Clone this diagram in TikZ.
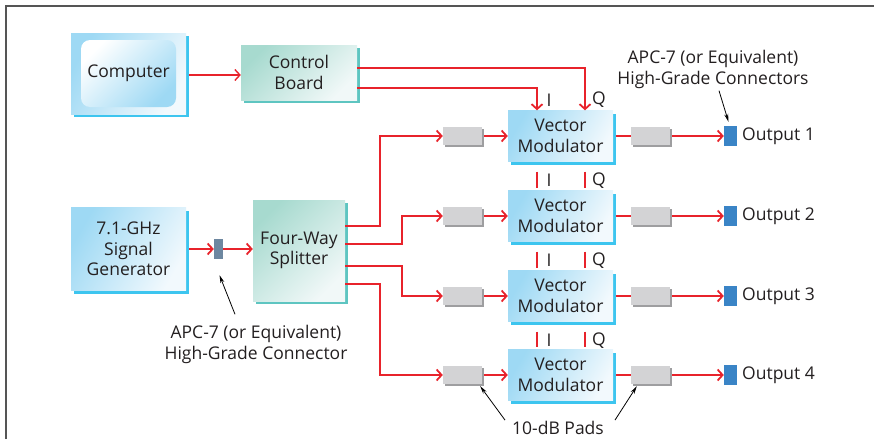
\documentclass[tikz,border=0pt]{standalone}
\usepackage{fontspec}
\setmainfont{Open Sans}
\usetikzlibrary{arrows.meta,shadows}
\definecolor{sigred}{HTML}{E8232B}
\definecolor{txtgray}{HTML}{231F20}
\definecolor{blueA}{HTML}{9ED9F4}
\definecolor{blueB}{HTML}{F2F9FD}
\definecolor{blueshadow}{HTML}{3DC5EF}
\definecolor{tealA}{HTML}{A7DACF}
\definecolor{tealB}{HTML}{F1F8F8}
\definecolor{tealshadow}{HTML}{5EC5C1}
\definecolor{padgray}{HTML}{D3D3D5}
\definecolor{padshadow}{HTML}{9E9EA0}
\definecolor{outblue}{HTML}{3A84C6}
\definecolor{conngray}{HTML}{6D87A0}
\definecolor{framegray}{HTML}{555555}
\begin{document}
\begin{tikzpicture}[x=1pt,y=-1pt,
        font=\fontsize{17.5}{20.5}\selectfont,text=txtgray,
        bluebox/.style={inner sep=0pt,align=center,top color=blueA,bottom color=blueB,shading angle=60,
            drop shadow={fill=blueshadow,opacity=1,shadow xshift=3pt,shadow yshift=-3pt}},
        tealbox/.style={inner sep=0pt,align=center,top color=tealA,bottom color=tealB,shading angle=45,
            drop shadow={fill=tealshadow,opacity=1,shadow xshift=3pt,shadow yshift=-3pt}},
        padbox/.style={inner sep=0pt,minimum width=39pt,minimum height=18pt,fill=padgray,
            drop shadow={fill=padshadow,opacity=1,shadow xshift=2pt,shadow yshift=-2pt}},
        outconn/.style={inner sep=0pt,minimum width=13pt,minimum height=20pt,fill=outblue},
        wire/.style={draw=sigred,line width=1.8pt},
        sig/.style={wire,-{Straight Barb[length=5pt,width=11pt]}},
        note/.style={draw=black,line width=0.8pt,-{Stealth[length=8pt,width=4pt]}}]
    \useasboundingbox (0,0) rectangle (874,439);
    \draw[framegray,line width=1.2pt] (6,439) -- (6,6) -- (874,6);

    % control path
    \node[bluebox,minimum width=115pt,minimum height=81pt] (comp) at (128.5,73.5) {};
    \node[inner sep=0pt,minimum width=95pt,minimum height=67pt,rounded corners=9pt,
        top color=white,bottom color=blueA,shading angle=45] (compin) at (128.5,73.5) {Computer};
    \node[tealbox,minimum width=116pt,minimum height=55pt] (ctrl) at (299,72.5) {Control\\Board};
    \draw[sig,line width=1.4pt] ([xshift=3pt,yshift=-1.5pt]comp.east) -- ([yshift=-2.5pt]ctrl.west);

    % source side
    \node[bluebox,minimum width=115pt,minimum height=83pt] (gen) at (128.5,249) {7.1-GHz\\Signal\\Generator};
    \node[inner sep=0pt,minimum width=9pt,minimum height=20pt,fill=conngray] (conn) at (218.5,249) {};
    \node[tealbox,minimum width=92pt,minimum height=101pt] (split) at (299,250.5) {Four-Way\\Splitter};
    \draw[sig] ([xshift=3pt]gen.east) -- (conn.west);
    \draw[sig] (conn.east) -- (conn.east -| split.west);

    % modulator rows
    \foreach \i/\y in {1/136,2/216,3/296,4/375}{
        \node[padbox] (padin\i) at (462.5,\y) {};
        \node[bluebox,minimum width=105pt,minimum height=51pt] (vm\i) at (560.5,\y) {Vector\\Modulator};
        \node[padbox] (padout\i) at (650.5,\y) {};
        \node[outconn] (out\i) at (730.5,\y) {};
        \node[anchor=west,inner sep=0pt] (outlbl\i) at (742,\y) {Output \i};
        \draw[sig] ([xshift=2pt]padin\i.east) -- (vm\i.west);
        \draw[wire] ([xshift=3pt]vm\i.east) -- (padout\i.west);
        \draw[sig] ([xshift=2pt]padout\i.east) -- (out\i.west);
    }

    % splitter outputs
    \draw[sig] ([yshift=24.5pt]split.east) -- ++(35,0) |- (padin1.west);
    \draw[sig] ([yshift=6.5pt]split.east) -- ++(57,0) |- (padin2.west);
    \draw[sig] ([yshift=-15.5pt]split.east) -- ++(57,0) |- (padin3.west);
    \draw[sig] ([yshift=-33.5pt]split.east) -- ++(35,0) |- (padin4.west);

    % I and Q lines
    \draw[sig] ([yshift=4.5pt]ctrl.east) -| ([xshift=24.5pt]vm1.north);
    \draw[sig] ([yshift=-15.5pt]ctrl.east) -| ([xshift=-23.5pt]vm1.north);
    \node (itop) at (549,100) {I};
    \node (qtop) at (599,100) {Q};
    \foreach \i/\j in {1/2,2/3,3/4}{
        \draw[wire] ([xshift=-23.5pt,yshift=-10pt]vm\i.south) -- ([xshift=-23.5pt,yshift=2pt]vm\j.north);
        \draw[wire] ([xshift=24.5pt,yshift=-10pt]vm\i.south) -- ([xshift=24.5pt,yshift=2pt]vm\j.north);
        \node (ilbl\i) at ([xshift=-11.5pt,yshift=-19pt]vm\i.south) {I};
        \node (qlbl\i) at ([xshift=38.5pt,yshift=-19pt]vm\i.south) {Q};
    }

    % annotations
    \node[align=center,inner sep=0pt] (apctop) at (713,69.5) {APC-7 (or Equivalent)\\High-Grade Connectors};
    \draw[note] ([xshift=6pt,yshift=-2pt]apctop.south) -- ([xshift=-2pt,yshift=4pt]out1.north);
    \node[align=center,inner sep=0pt] (apcbot) at (256,344.5) {APC-7 (or Equivalent)\\High-Grade Connector};
    \draw[note] ([xshift=-21pt,yshift=11pt]apcbot.north) -- ([xshift=1pt,yshift=-16pt]conn.south);
    \node[inner sep=0pt] (padlbl) at (558,428) {10-dB Pads};
    \draw[note] ([xshift=-53pt,yshift=1pt]padlbl.north) -- ([xshift=-2pt,yshift=-2pt]padin4.south east);
    \draw[note] ([xshift=57pt,yshift=1pt]padlbl.north) -- ([xshift=6pt,yshift=-2pt]padout4.south west);
\end{tikzpicture}
\end{document}
